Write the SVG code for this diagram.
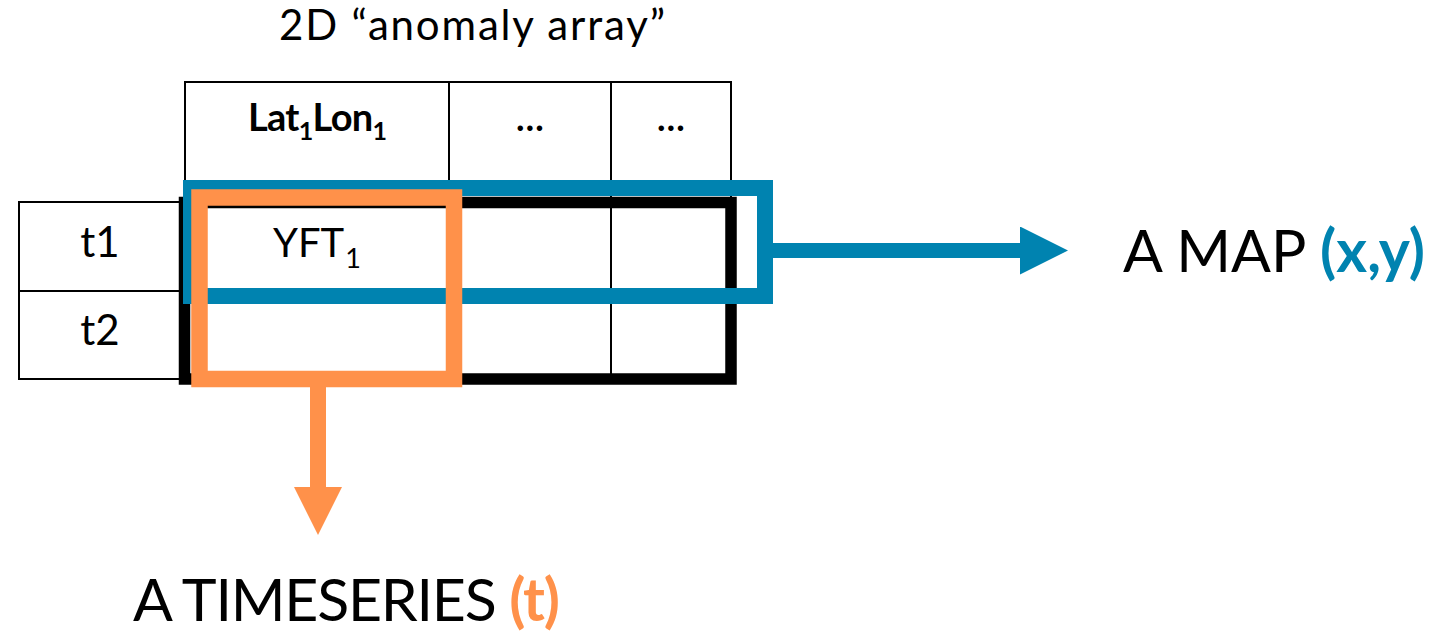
<svg xmlns="http://www.w3.org/2000/svg" width="1443" height="635" viewBox="0 0 1443 635">
  <style>
    .txt { font-family: Lato, "Open Sans", "Liberation Sans", sans-serif; fill: #000; }
    .bold { font-weight: 700; }
    .grid { fill: none; stroke: #000; stroke-width: 2; }
  </style>
  <defs>
    <marker id="headBlue" viewBox="0 0 48 48" refX="0" refY="24" markerWidth="48" markerHeight="48" markerUnits="userSpaceOnUse" orient="auto">
      <path d="M0,0 L48,24 L0,48 Z" fill="#0083B0"/>
    </marker>
    <marker id="headOrange" viewBox="0 0 48 48" refX="0" refY="24" markerWidth="48" markerHeight="48" markerUnits="userSpaceOnUse" orient="auto">
      <path d="M0,0 L48,24 L0,48 Z" fill="#FF914A"/>
    </marker>
  </defs>
  <rect width="1443" height="635" fill="#fff"/>

  <!-- title -->
  <text id="title" class="txt" x="279" y="40" font-size="42" textLength="386">2D “anomaly array”</text>

  <!-- column header row -->
  <g id="header">
    <rect class="grid" x="185" y="82" width="546" height="120"/>
    <line class="grid" x1="449" y1="82" x2="449" y2="379"/>
    <line class="grid" x1="611" y1="82" x2="611" y2="379"/>
    <text class="txt bold" x="248" y="131" font-size="38" textLength="139">Lat<tspan font-size="25" dy="9">1</tspan><tspan dy="-9">Lon</tspan><tspan font-size="25" dy="9">1</tspan></text>
    <text class="txt bold" x="530" y="131" font-size="36" text-anchor="middle">…</text>
    <text class="txt bold" x="671" y="131" font-size="36" text-anchor="middle">…</text>
  </g>

  <!-- row labels -->
  <g id="rows">
    <rect class="grid" x="19" y="202" width="166" height="177"/>
    <line class="grid" x1="19" y1="291" x2="731" y2="291"/>
    <text class="txt" x="100" y="257" font-size="42" text-anchor="middle">t1</text>
    <text class="txt" x="100" y="345" font-size="42" text-anchor="middle">t2</text>
  </g>

  <!-- data block -->
  <g id="data">
    <rect x="184.5" y="202.5" width="546.5" height="176.5" fill="none" stroke="#000" stroke-width="11.5"/>
    <text class="txt" x="273" y="257" font-size="40">YFT<tspan font-size="27" dx="1" dy="11">1</tspan></text>
  </g>

  <!-- selections and connectors -->
  <g id="connectors">
    <rect id="map-select" x="191" y="188" width="574" height="108" fill="none" stroke="#0083B0" stroke-width="16"/>
    <line x1="773" y1="250.5" x2="1020" y2="250.5" stroke="#0083B0" stroke-width="15" marker-end="url(#headBlue)"/>
    <rect id="ts-select" x="199.5" y="197.5" width="254.5" height="181.5" fill="none" stroke="#FF914A" stroke-width="16.5"/>
    <line x1="318" y1="387" x2="318" y2="487" stroke="#FF914A" stroke-width="16" marker-end="url(#headOrange)"/>
  </g>

  <!-- output labels -->
  <g id="map-label">
    <text class="txt" x="1123" y="272" font-size="59" textLength="302">A MAP <tspan class="bold" fill="#0083B0">(x,y)</tspan></text>
  </g>
  <g id="timeseries-label">
    <text class="txt" x="133" y="621" font-size="59" textLength="427">A TIMESERIES <tspan class="bold" fill="#FF914A">(t)</tspan></text>
  </g>
</svg>
